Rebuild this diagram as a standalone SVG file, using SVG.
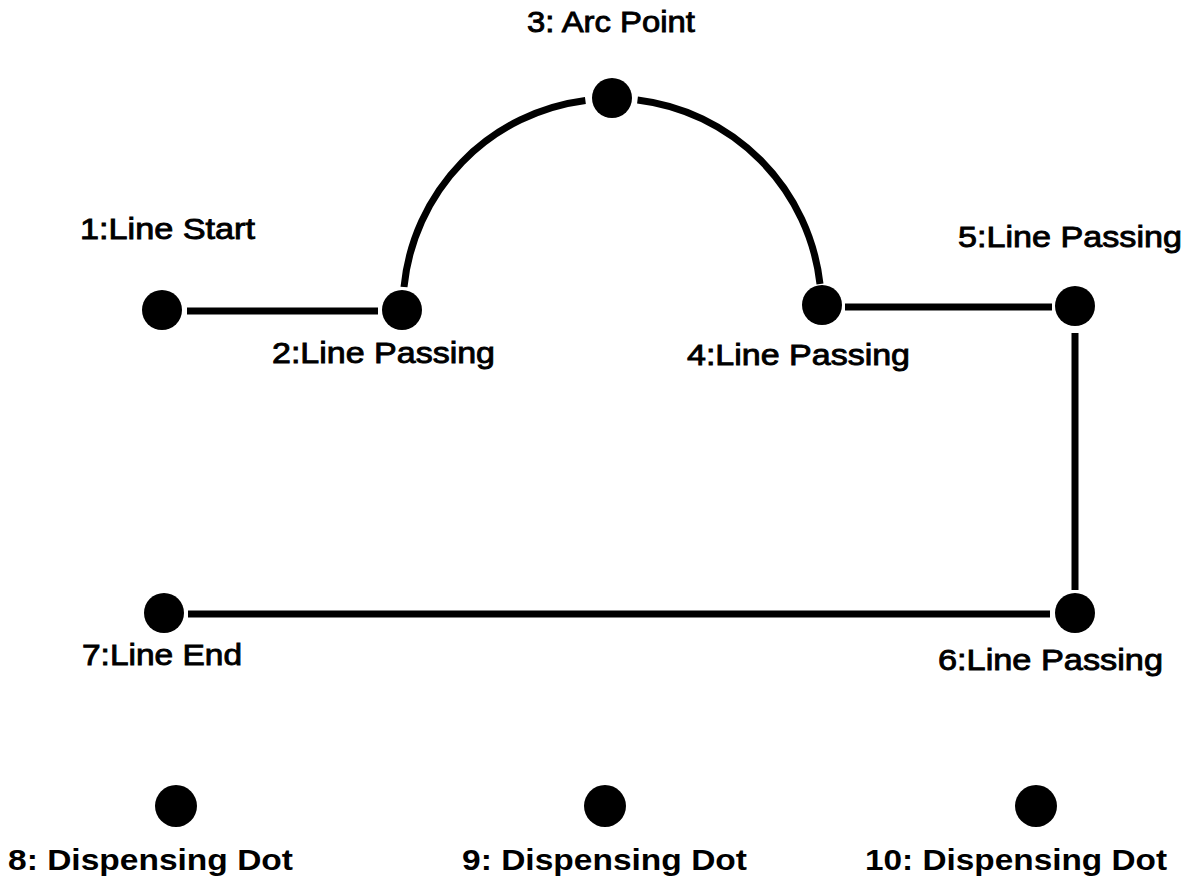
<svg xmlns="http://www.w3.org/2000/svg" width="1190" height="876" viewBox="0 0 1190 876">
<style>
.dot{fill:#000}
.ln{stroke:#000;stroke-width:7;fill:none}
.lbl{font-family:"Liberation Sans",Arial,sans-serif;font-weight:normal;font-size:30px;fill:#000;stroke:#000;stroke-width:0.9px}
.big{font-family:"Liberation Sans",Arial,sans-serif;font-weight:bold;font-size:30px;fill:#000}
</style>
<rect width="1190" height="876" fill="#fff"/>
<g id="connectors">
<line class="ln" x1="187" y1="311" x2="378" y2="311"/>
<path class="ln" d="M 404 287 A 209 209 0 0 1 585.4 100.5"/>
<path class="ln" d="M 637.5 100 A 209 209 0 0 1 820 284"/>
<line class="ln" x1="845" y1="307" x2="1052" y2="307"/>
<line class="ln" x1="1075" y1="333" x2="1075" y2="590"/>
<line class="ln" x1="188" y1="614" x2="1050" y2="614"/>
</g>
<g id="node1"><circle class="dot" cx="162" cy="310" r="20"/><text class="lbl" x="80" y="239" textLength="175" lengthAdjust="spacingAndGlyphs">1:Line Start</text></g>
<g id="node2"><circle class="dot" cx="402" cy="310" r="20"/><text class="lbl" x="272" y="363" textLength="223" lengthAdjust="spacingAndGlyphs">2:Line Passing</text></g>
<g id="node3"><circle class="dot" cx="612" cy="98" r="20"/><text class="lbl" x="527" y="32" textLength="168" lengthAdjust="spacingAndGlyphs">3: Arc Point</text></g>
<g id="node4"><circle class="dot" cx="822" cy="305" r="20"/><text class="lbl" x="687" y="365" textLength="223" lengthAdjust="spacingAndGlyphs">4:Line Passing</text></g>
<g id="node5"><circle class="dot" cx="1075" cy="306" r="20"/><text class="lbl" x="958" y="247" textLength="224" lengthAdjust="spacingAndGlyphs">5:Line Passing</text></g>
<g id="node6"><circle class="dot" cx="1075" cy="613" r="20"/><text class="lbl" x="938" y="670" textLength="225" lengthAdjust="spacingAndGlyphs">6:Line Passing</text></g>
<g id="node7"><circle class="dot" cx="164" cy="613" r="20"/><text class="lbl" x="82" y="665" textLength="160" lengthAdjust="spacingAndGlyphs">7:Line End</text></g>
<g id="node8"><circle class="dot" cx="176" cy="806" r="21"/><text class="big" x="8" y="870" textLength="285" lengthAdjust="spacingAndGlyphs">8: Dispensing Dot</text></g>
<g id="node9"><circle class="dot" cx="605" cy="806" r="21"/><text class="big" x="462" y="870" textLength="285" lengthAdjust="spacingAndGlyphs">9: Dispensing Dot</text></g>
<g id="node10"><circle class="dot" cx="1036" cy="806" r="21"/><text class="big" x="865" y="870" textLength="302" lengthAdjust="spacingAndGlyphs">10: Dispensing Dot</text></g>
</svg>
